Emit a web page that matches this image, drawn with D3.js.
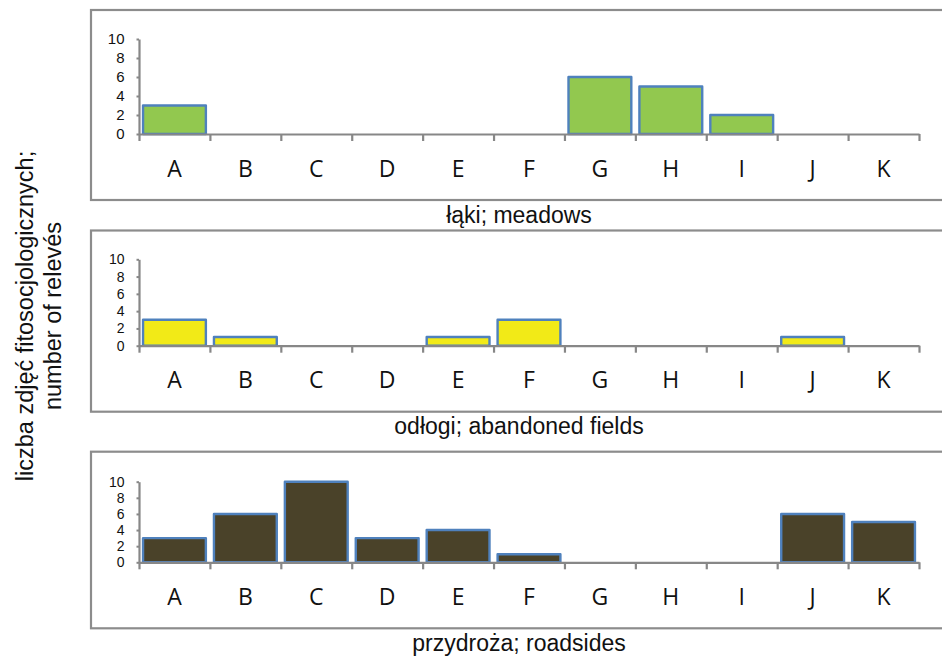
<!DOCTYPE html>
<html>
<head>
<meta charset="utf-8">
<script src="https://cdn.jsdelivr.net/npm/d3@7"></script>
<style>
  html, body { margin: 0; padding: 0; background: #fff; }
  svg { display: block; }
</style>
</head>
<body>
<svg id="chart" width="942" height="656"></svg>
<script>
// ---- data ----
const categories = ["A", "B", "C", "D", "E", "F", "G", "H", "I", "J", "K"];
const meadows    = [3, 0, 0, 0, 0, 0, 6, 5, 2, 0, 0];
const fields     = [3, 1, 0, 0, 1, 3, 0, 0, 0, 1, 0];
const roadsides  = [3, 6, 10, 3, 4, 1, 0, 0, 0, 6, 5];
const yTicks     = [0, 2, 4, 6, 8, 10];
const panelTitles = ["łąki; meadows", "odłogi; abandoned fields", "przydroża; roadsides"];
const yLabelLines = ["liczba zdjęć fitosocjologicznych;", "number of relevés"];

// ---- layout / style ----
const seriesList = [meadows, fields, roadsides];
const fills = ["#92c84f", "#f2ea17", "#4a4229"];
const layout = [
  { frameTop: 10,    frameBottom: 200,   y0: 134,   y10: 39,    labelBase: 177, titleBase: 223, tickFont: 15 },
  { frameTop: 230.5, frameBottom: 411.7, y0: 345.7, y10: 259.3, labelBase: 388, titleBase: 434, tickFont: 14 },
  { frameTop: 451.7, frameBottom: 628.3, y0: 562.3, y10: 481.7, labelBase: 605, titleBase: 651, tickFont: 14 }
];
const xLeft = 139, xRight = 919, frameLeft = 91;
const gray = "#878787";

const svg = d3.select("#chart");

const x = d3.scaleBand().domain(categories).range([xLeft, xRight])
  .paddingInner(0.1).paddingOuter(0.05);
const xEdges = d3.scaleLinear().domain([0, categories.length]).range([xLeft, xRight]);

seriesList.forEach((vals, p) => {
  const L = layout[p];
  const g = svg.append("g");

  // frame
  g.append("rect")
    .attr("x", frameLeft).attr("y", L.frameTop)
    .attr("width", 960 - frameLeft).attr("height", L.frameBottom - L.frameTop)
    .attr("fill", "none").attr("stroke", "#8c8c8c").attr("stroke-width", 2.2);

  const y = d3.scaleLinear().domain([0, 10]).range([L.y0, L.y10]);

  // bars
  const data = categories.map((c, i) => ({ c, v: vals[i] })).filter(d => d.v > 0);
  g.selectAll("rect.bar").data(data).enter().append("rect")
    .attr("class", "bar")
    .attr("x", d => x(d.c) + 0.5)
    .attr("width", x.bandwidth() - 1)
    .attr("y", d => y(d.v))
    .attr("height", d => y(0) - y(d.v))
    .attr("fill", fills[p])
    .attr("stroke", "#4f81bd")
    .attr("stroke-width", 2.4)
    .attr("stroke-linejoin", "round");

  // x axis line + boundary ticks
  const xa = g.append("g").attr("transform", `translate(0,${L.y0})`)
    .call(d3.axisBottom(xEdges).tickValues(d3.range(categories.length + 1))
      .tickFormat("").tickSize(7).tickSizeOuter(0));
  xa.select(".domain").attr("stroke", gray).attr("stroke-width", 2.2);
  xa.selectAll(".tick line").attr("stroke", gray).attr("stroke-width", 2.2);

  // category labels
  const xl = g.append("g").attr("transform", `translate(0,${L.labelBase})`)
    .call(d3.axisBottom(x).tickSize(0).tickPadding(0));
  xl.select(".domain").remove();
  xl.selectAll(".tick text")
    .attr("y", 0).attr("dy", 0)
    .attr("font-family", "'Open Sans', sans-serif")
    .attr("font-size", 23)
    .attr("fill", "#111");

  // y axis
  const ya = g.append("g").attr("transform", `translate(${xLeft},0)`)
    .call(d3.axisLeft(y).tickValues(yTicks).tickSize(2.5).tickPadding(12).tickSizeOuter(0));
  ya.select(".domain").attr("stroke", gray).attr("stroke-width", 2.2);
  ya.selectAll(".tick line").attr("stroke", gray).attr("stroke-width", 2);
  ya.selectAll(".tick text")
    .attr("font-family", "'Liberation Sans', Arial, sans-serif")
    .attr("font-size", L.tickFont)
    .attr("fill", "#111");

  // panel title
  svg.append("text")
    .attr("x", 519).attr("y", L.titleBase)
    .attr("text-anchor", "middle")
    .attr("font-family", "'Liberation Sans', Arial, sans-serif")
    .attr("font-size", 23)
    .attr("fill", "#111")
    .text(panelTitles[p]);
});

// y-axis label (two rotated lines)
const yl = svg.append("text")
  .attr("transform", "translate(0,316) rotate(-90)")
  .attr("text-anchor", "middle")
  .attr("font-family", "'Liberation Sans', Arial, sans-serif")
  .attr("font-size", 23.5)
  .attr("fill", "#111");
yl.selectAll("tspan").data(yLabelLines).enter().append("tspan")
  .attr("x", 0)
  .attr("y", (d, i) => 33 + i * 28)
  .text(d => d);
</script>
</body>
</html>
